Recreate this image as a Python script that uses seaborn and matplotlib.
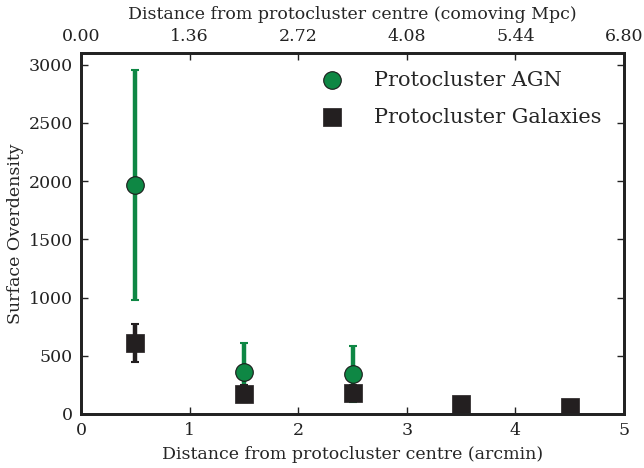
import matplotlib
matplotlib.use("Agg")
import matplotlib.pyplot as plt
import seaborn as sns
import pandas as pd
import numpy as np

# Data
agn_x = [0.5, 1.5, 2.5, 3.5]
agn_y = [1965, 357, 340, 0]
agn_err = [985, 252, 240, 0]

gal_x = [0.5, 1.5, 2.5, 3.5, 4.5]
gal_y = [610, 175, 180, 86, 60]
gal_err = [160, 75, 70, 20, 15]

top_ticklabels = ["0.00", "1.36", "2.72", "4.08", "5.44", "6.80"]

green = "#0e8744"
dark = "#231f20"

sns.set_style("ticks")
plt.rcParams["font.family"] = ["DejaVu Serif"]
plt.rcParams["mathtext.fontset"] = "dejavuserif"

fig = plt.figure(figsize=(6.44, 4.68), dpi=100)
ax = fig.add_axes([0.1258, 0.1154, 0.969 - 0.1258, 0.887 - 0.1154])

# error bars
ax.errorbar(agn_x, agn_y, yerr=agn_err, fmt="none", ecolor=green,
            elinewidth=3.2, capsize=3, capthick=1.5, zorder=2)
ax.errorbar(gal_x, gal_y, yerr=gal_err, fmt="none", ecolor=dark,
            elinewidth=3.2, capsize=3, capthick=1.5, zorder=2)

agn_df = pd.DataFrame({"x": agn_x[:3], "y": agn_y[:3]})
gal_df = pd.DataFrame({"x": gal_x, "y": gal_y})
sns.scatterplot(data=agn_df, x="x", y="y", ax=ax, marker="o", s=160,
                color=green, edgecolor="#1a1a1a", linewidth=0.8,
                label="Protocluster AGN", zorder=3)
sns.scatterplot(data=gal_df, x="x", y="y", ax=ax, marker="s", s=170,
                color=dark, edgecolor=dark, linewidth=0.5,
                label="Protocluster Galaxies", zorder=4)

ax.set_xlim(0, 5)
ax.set_ylim(0, 3100)
ax.set_xticks([0, 1, 2, 3, 4, 5])
ax.set_yticks([0, 500, 1000, 1500, 2000, 2500, 3000])
ax.set_xlabel("Distance from protocluster centre (arcmin)", fontsize=12.5, labelpad=5)
ax.set_ylabel("Surface Overdensity", fontsize=12.5, labelpad=3)
ax.tick_params(direction="in", length=5, width=1, labelsize=12.5, pad=6,
               right=True, top=False, colors="#222222")
for s in ax.spines.values():
    s.set_linewidth(2)
    s.set_color("#222222")

ax2 = ax.twiny()
ax2.set_xlim(0, 5)
ax2.set_xticks([0, 1, 2, 3, 4, 5])
ax2.set_xticklabels(top_ticklabels)
ax2.set_xlabel("Distance from protocluster centre (comoving Mpc)", fontsize=12.5, labelpad=6)
ax2.tick_params(direction="in", length=5, width=1, labelsize=12.5, pad=6, colors="#222222")
for s in ax2.spines.values():
    s.set_linewidth(2)
    s.set_color("#222222")

leg = ax.legend(loc="upper right", bbox_to_anchor=(0.991, 1.0), frameon=False,
                fontsize=15, handletextpad=1.0, borderaxespad=0.46,
                labelspacing=0.85, markerscale=1.0)

fig.savefig("out.png", dpi=100)
